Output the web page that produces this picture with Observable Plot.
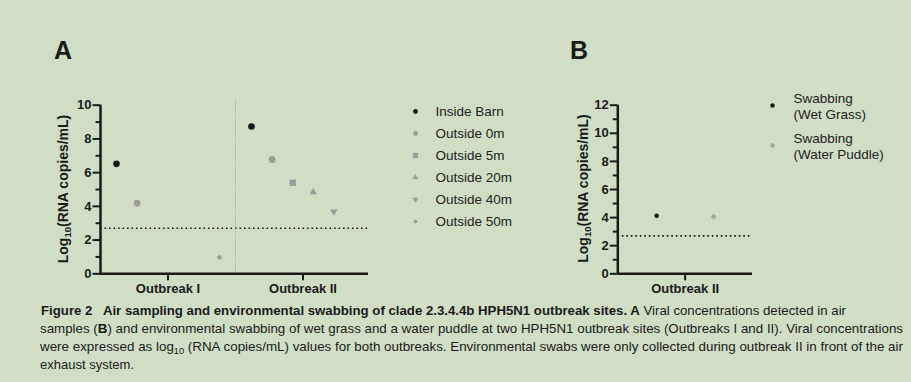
<!DOCTYPE html>
<html><head><meta charset="utf-8">
<script src="https://cdn.jsdelivr.net/npm/d3@7"></script>
<script src="https://cdn.jsdelivr.net/npm/@observablehq/plot@0.6"></script>
<style>
html,body{margin:0;padding:0;background:#d0dec5;}
#fig{position:relative;width:911px;height:382px;background:#d0dec5;overflow:hidden;font-family:"Liberation Sans",Arial,sans-serif;color:#1a1a1a;}
#fig > *{position:absolute;}
.panel-label{font-weight:bold;font-size:25px;line-height:1;}
</style></head><body><div id="fig"></div>
<script>
// ---------------- data ----------------
const outbreaks = ["Outbreak I", "Outbreak II"];
const airSeries = ["Inside Barn", "Outside 0m", "Outside 5m", "Outside 20m", "Outside 40m", "Outside 50m"];
const airOutbreakI  = [6.52, 4.19, null, null, null, 0.98];
const airOutbreakII = [8.74, 6.78, 5.40, 4.84, 3.69, null];
const limitOfDetection = 2.7;
const yTicksA = [0, 2, 4, 6, 8, 10];
const yMinorA = [1, 3, 5, 7, 9];
const swabOutbreak = "Outbreak II";
const swabSeries = ["Swabbing\n(Wet Grass)", "Swabbing\n(Water Puddle)"];
const swabValues = [4.13, 4.08];
const yTicksB = [0, 2, 4, 6, 8, 10, 12];
const yMinorB = [1, 3, 5, 7, 9, 11];
const panelLabels = ["A", "B"];
const yLabelParts = ["Log", "10", "(RNA copies/mL)"];
const captionLines = [
  [["Figure 2", true], ["   Air sampling and environmental swabbing of clade 2.3.4.4b HPH5N1 outbreak sites. A", true], [" Viral concentrations detected in air", false]],
  [["samples (", false], ["B", true], [") and environmental swabbing of wet grass and a water puddle at two HPH5N1 outbreak sites (Outbreaks I and II). Viral concentrations", false]],
  [["were expressed as log", false], ["10", false, "sub"], [" (RNA copies/mL) values for both outbreaks. Environmental swabs were only collected during outbreak II in front of the air", false]],
  [["exhaust system.", false]]
];

// ---------------- styles ----------------
const INK = "#1a1a1a";
const FONT = "Liberation Sans, Arial, sans-serif";
const GREY = "#9b9b9b";
const airStyle = [
  {symbol: "circle", fill: "#151515", r: 3.3, lr: 2.4},
  {symbol: "circle", fill: GREY, r: 3.4, lr: 2.4},
  {symbol: "square", fill: GREY, r: 3.6, lr: 2.9},
  {symbol: "triangle", fill: GREY, r: 2.7, lr: 2.3, rotate: 0},
  {symbol: "triangle", fill: GREY, r: 2.7, lr: 2.3, rotate: 180},
  {symbol: "diamond2", fill: GREY, r: 2.5, lr: 2.1}
];
const swabStyle = [{fill: "#151515", r: 2.3}, {fill: "#a3a3a3", r: 2.3}];
const SLOT_A = 20.6 / 135;   // dodge step within a group (fraction of group width)
const SLOT_B = 57 / 134.7;

const fig = document.getElementById("fig");

// table for panel A
const rowsA = [];
outbreaks.forEach((o, oi) => {
  const vals = oi === 0 ? airOutbreakI : airOutbreakII;
  airSeries.forEach((s, si) => {
    if (vals[si] != null) rowsA.push({outbreak: o, oi, series: s, si, value: vals[si]});
  });
});
const rowsB = swabSeries.map((s, si) => ({outbreak: swabOutbreak, series: s, si, value: swabValues[si]}));

const baseStyle = {background: "none", color: INK, fontFamily: FONT, fontSize: "13px", fontWeight: "bold", overflow: "visible"};

function addYLabel(svg, x, y) {
  const t = d3.select(svg).append("text")
    .attr("transform", `translate(${x},${y}) rotate(-90)`)
    .attr("text-anchor", "middle").attr("font-size", 14).attr("font-weight", "bold")
    .attr("fill", INK).attr("font-family", FONT);
  t.append("tspan").text(yLabelParts[0]);
  t.append("tspan").attr("font-size", 9.5).attr("dy", 3).text(yLabelParts[1]);
  t.append("tspan").attr("dy", -3).text(yLabelParts[2]);
}

function place(el, left, top) { el.style.left = left + "px"; el.style.top = top + "px"; fig.appendChild(el); }

const axisFont = {fontSize: 13, fontWeight: "bold"};

// ---------------- Panel A ----------------
const plotA = Plot.plot({
  width: 380, height: 300,
  marginLeft: 100, marginRight: 10, marginTop: 104.7, marginBottom: 26.7,
  x: {domain: [0, 2]},
  y: {domain: [0, 10]},
  style: baseStyle,
  marks: [
    Plot.ruleY([limitOfDetection], {stroke: INK, strokeWidth: 1.6, strokeDasharray: "1.6,2.9"}),
    Plot.ruleX([1], {stroke: "#98a592", strokeWidth: 1, strokeDasharray: "1,1.4", insetTop: -6}),
    Plot.axisY({ticks: yTicksA, tickSize: 7.5, tickPadding: 1.5, strokeWidth: 2, label: null, ...axisFont}),
    Plot.axisY({ticks: yMinorA, tickSize: 4.5, strokeWidth: 2, tickFormat: () => "", label: null}),
    Plot.axisX({ticks: [0.5, 1.5], tickSize: 7, tickPadding: 3, strokeWidth: 2, tickFormat: d => outbreaks[Math.floor(d)], label: null, ...axisFont}),
    Plot.ruleX([0], {y1: 0, y2: 10, stroke: INK, strokeWidth: 2.5}),
    Plot.ruleY([0], {stroke: INK, strokeWidth: 2.5, insetRight: 2}),
    ...airStyle.map((st, si) => Plot.dot(rowsA, {
      filter: d => d.si === si,
      x: d => d.oi + 0.5 + (d.si - 2.5) * SLOT_A,
      y: "value",
      symbol: st.symbol, fill: st.fill, r: st.r, rotate: st.rotate || 0, stroke: "none"
    }))
  ]
});
addYLabel(plotA, 68, 189);
place(plotA, 0, 0);

// Legend A
const legendA = Plot.plot({
  width: 130, height: 140, marginLeft: 15, marginRight: 0, marginTop: 0, marginBottom: 0,
  y: {type: "point", domain: airSeries, range: [14, 128.3], padding: 0, axis: null},
  style: {background: "none", color: "#222", fontFamily: FONT, fontSize: "13.5px", overflow: "visible"},
  marks: [
    ...airStyle.map((st, si) => Plot.dot([airSeries[si]], {
      y: d => d, frameAnchor: "left",
      symbol: st.symbol, fill: st.fill, r: st.lr, rotate: st.rotate || 0, stroke: "none"
    })),
    Plot.text(airSeries, {y: d => d, text: d => d, frameAnchor: "left", dx: 20, textAnchor: "start", fill: "#222", fontSize: 13.5})
  ]
});
place(legendA, 400, 95);

// ---------------- Panel B ----------------
const plotB = Plot.plot({
  width: 220, height: 300,
  marginLeft: 77.3, marginRight: 8, marginTop: 104.7, marginBottom: 26.7,
  x: {domain: [0, 1]},
  y: {domain: [0, 12]},
  style: baseStyle,
  marks: [
    Plot.ruleY([limitOfDetection], {stroke: INK, strokeWidth: 1.6, strokeDasharray: "1.6,2.9"}),
    Plot.axisY({ticks: yTicksB, tickSize: 7.5, tickPadding: 1.5, strokeWidth: 2, label: null, ...axisFont}),
    Plot.axisY({ticks: yMinorB, tickSize: 4.5, strokeWidth: 2, tickFormat: () => "", label: null}),
    Plot.axisX({ticks: [0.5], tickSize: 7, tickPadding: 3, strokeWidth: 2, tickFormat: () => swabOutbreak, label: null, ...axisFont}),
    Plot.ruleX([0], {y1: 0, y2: 12, stroke: INK, strokeWidth: 2.5}),
    Plot.ruleY([0], {stroke: INK, strokeWidth: 2.5}),
    ...swabStyle.map((st, si) => Plot.dot(rowsB, {
      filter: d => d.si === si,
      x: d => 0.5 + (d.si - 0.5) * SLOT_B,
      y: "value", fill: st.fill, r: st.r, stroke: "none"
    }))
  ]
});
addYLabel(plotB, 48, 188.5);
place(plotB, 540, 0);

// Legend B
const legendB = Plot.plot({
  width: 156, height: 90, marginLeft: 17, marginRight: 0, marginTop: 0, marginBottom: 0,
  y: {type: "point", domain: swabSeries, range: [24.3, 65], padding: 0, axis: null},
  style: {background: "none", color: "#222", fontFamily: FONT, fontSize: "13.5px", overflow: "visible"},
  marks: [
    ...swabStyle.map((st, si) => Plot.dot([swabSeries[si]], {y: d => d, frameAnchor: "left", fill: st.fill, r: 2.2, stroke: "none"})),
    Plot.text(swabSeries, {y: d => d, text: d => d, frameAnchor: "left", dx: 21, textAnchor: "start", fill: "#222", fontSize: 13.5, lineHeight: 1.22})
  ]
});
place(legendB, 755, 80);

// Panel labels
[[panelLabels[0], 54, 38], [panelLabels[1], 570, 38]].forEach(([t, x, y]) => {
  const d = document.createElement("div");
  d.className = "panel-label"; d.textContent = t;
  place(d, x, y);
});

// ---------------- Caption ----------------
const capW = [805, 863, 863, null];
const capBase = [24.7, 42.8, 61, 79.2];
const cap = d3.create("svg").attr("width", 911).attr("height", 92);
captionLines.forEach((line, li) => {
  const t = cap.append("text").attr("x", li === 0 ? 41 : 40).attr("y", capBase[li])
    .attr("font-family", FONT).attr("font-size", 13).attr("fill", "#1a1a1a")
    .style("white-space", "pre");
  if (capW[li]) t.attr("textLength", capW[li]).attr("lengthAdjust", "spacingAndGlyphs");
  let prevSub = false;
  line.forEach(([txt, bold, sub]) => {
    const s = t.append("tspan").text(txt).attr("font-weight", bold ? "bold" : "normal");
    if (sub) s.attr("font-size", 9).attr("dy", 2.5);
    else if (prevSub) s.attr("dy", -2.5);
    prevSub = !!sub;
  });
});
place(cap.node(), 0, 290);
</script></body></html>
